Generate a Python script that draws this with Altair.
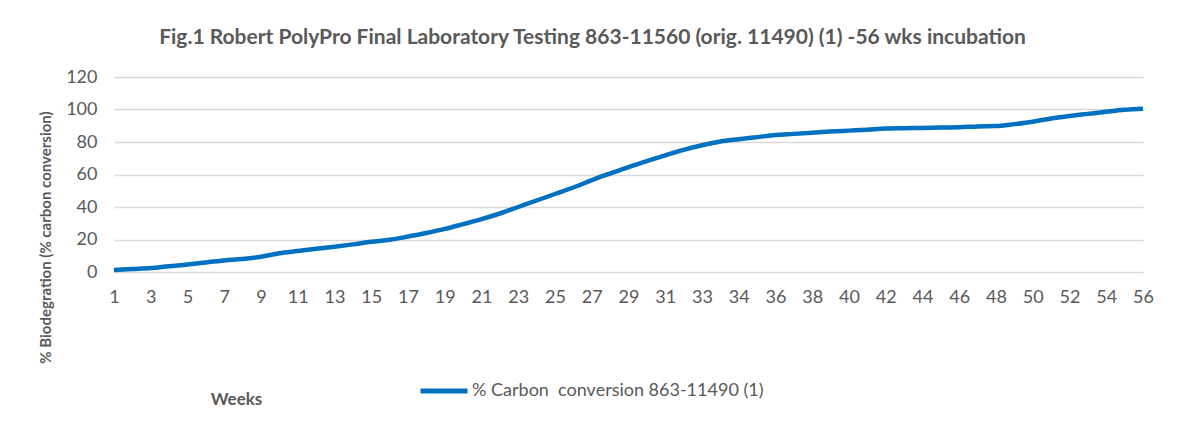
import altair as alt
import pandas as pd

# Week categories (one extra reading sits between weeks 33 and 34 on the category axis)
weeks = [str(w) for w in range(1, 34)] + ["33.5"] + [str(w) for w in range(34, 57)]
conversion = [
    1.2, 1.8, 2.4, 3.6, 4.6, 5.9, 7.1, 8.0, 9.4, 11.5,
    12.9, 14.3, 15.6, 17.0, 18.6, 19.8, 21.8, 24.0, 26.5, 29.5,
    32.5, 36.0, 40.0, 44.0, 48.0, 52.0, 56.5, 60.6, 64.6, 68.2,
    71.8, 75.2, 78.0, 80.3, 81.7, 83.0, 84.3, 85.0, 85.7, 86.4,
    87.0, 87.6, 88.3, 88.5, 88.6, 88.9, 89.1, 89.6, 89.8, 91.0,
    92.5, 94.5, 96.0, 97.3, 98.6, 99.8, 100.5,
]
shown_weeks = weeks[::2]
series_name = "% Carbon\u00a0 conversion 863-11490 (1)"
title_text = "Fig.1 Robert PolyPro Final Laboratory Testing 863-11560 (orig. 11490) (1) -56 wks incubation"

df = pd.DataFrame({"week": weeks, "value": conversion, "series": series_name})

FONT = "Lato"
GRAY = "#595959"

chart = alt.Chart(df).mark_line(strokeWidth=4.5, interpolate="monotone").encode(
    x=alt.X("week:O", sort=weeks,
            scale=alt.Scale(type="point", padding=0),
            axis=alt.Axis(values=shown_weeks, labelAngle=0, ticks=False, domain=False,
                          grid=False, labelPadding=16, labelFontSize=18, labelColor=GRAY,
                          labelFont=FONT, title="Weeks", titleX=122, titleY=127,
                          titleAlign="center", titleBaseline="middle", titleFont=FONT,
                          titleFontSize=17, titleFontWeight="bold", titleColor=GRAY)),
    y=alt.Y("value:Q", scale=alt.Scale(domain=[0, 120]),
            axis=alt.Axis(values=[0, 20, 40, 60, 80, 100, 120], ticks=False, domain=False,
                          gridColor="#d9d9d9", gridWidth=1.5, labelPadding=17,
                          labelFontSize=18, labelColor=GRAY, labelFont=FONT,
                          title="% Biodegration (% carbon conversion)", titleX=-69, titleY=160,
                          titleAlign="center", titleBaseline="middle", titleFont=FONT,
                          titleFontSize=15, titleFontWeight="bold", titleColor=GRAY)),
    color=alt.Color("series:N", scale=alt.Scale(range=["#0070c0"]),
                    legend=alt.Legend(title=None, orient="none", legendX=304, legendY=288,
                                      symbolType="stroke", symbolSize=2209, symbolStrokeWidth=5,
                                      labelFont=FONT, labelFontSize=18, labelColor=GRAY,
                                      labelOffset=2, labelLimit=0)),
).properties(
    width=1029, height=195,
    title=alt.TitleParams(title_text, anchor="middle", dx=-36, offset=20, font=FONT,
                          fontSize=21, fontWeight="bold", color=GRAY),
    autosize=alt.AutoSizeParams(type="none"),
    padding={"left": 106, "top": 69, "right": 27, "bottom": 140},
).configure_view(stroke=None)

chart.save("out.html", embed_options={"renderer": "svg", "actions": False})
